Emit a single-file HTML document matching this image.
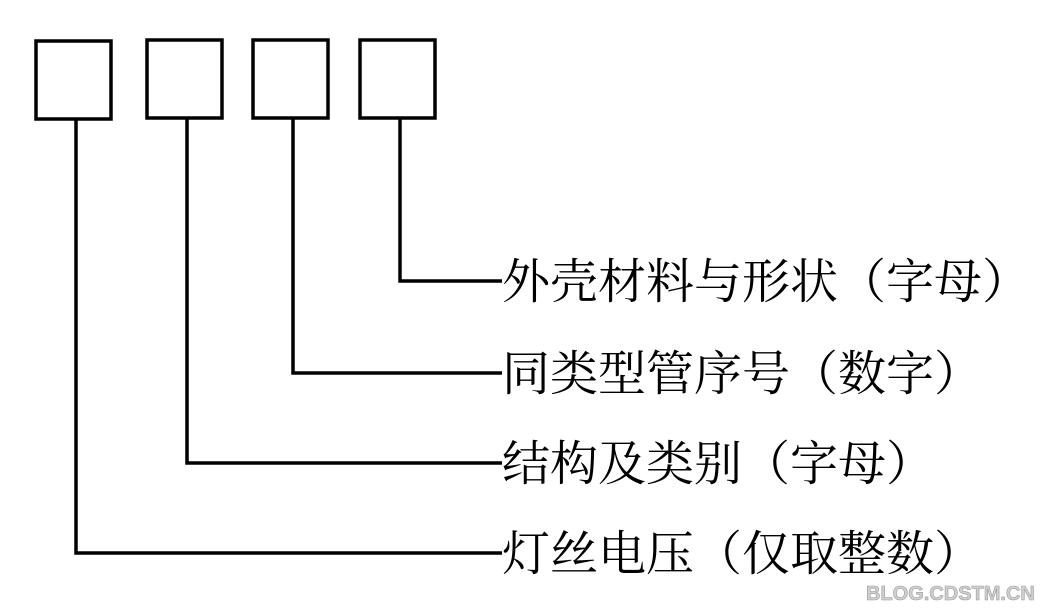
<!DOCTYPE html>
<html><head><meta charset="utf-8"><style>
html,body{margin:0;padding:0;background:#fff;}
body{width:1040px;height:612px;position:relative;overflow:hidden;}
svg{position:absolute;left:0;top:0;}
.t{font-family:"Noto Serif CJK SC","Liberation Serif",serif;font-size:48px;fill:#000;}
.w{font-family:"Liberation Sans",sans-serif;font-weight:bold;font-size:20px;fill:#d0d0d0;stroke:#999;stroke-width:0.6;}
</style></head><body>
<svg width="1040" height="612" viewBox="0 0 1040 612">
<g fill="none" stroke="#000" stroke-width="3.5">
<rect x="36" y="41" width="75" height="78"/>
<rect x="147" y="40" width="75" height="78"/>
<rect x="253" y="40" width="75" height="78"/>
<rect x="360" y="40" width="75" height="78"/>
<polyline points="400,119 400,281 502,281"/>
<polyline points="293,119 293,373 502,373"/>
<polyline points="187,119 187,463 502,463"/>
<polyline points="76,120 76,553 502,553"/>
</g>
<text class="t" x="502" y="298">外壳材料与形状（字母）</text>
<text class="t" x="502" y="390">同类型管序号（数字）</text>
<text class="t" x="502" y="480">结构及类别（字母）</text>
<text class="t" x="502" y="570">灯丝电压（仅取整数）</text>
<text class="w" x="866" y="600">BLOG.CDSTM.CN</text>
</svg>
</body></html>
